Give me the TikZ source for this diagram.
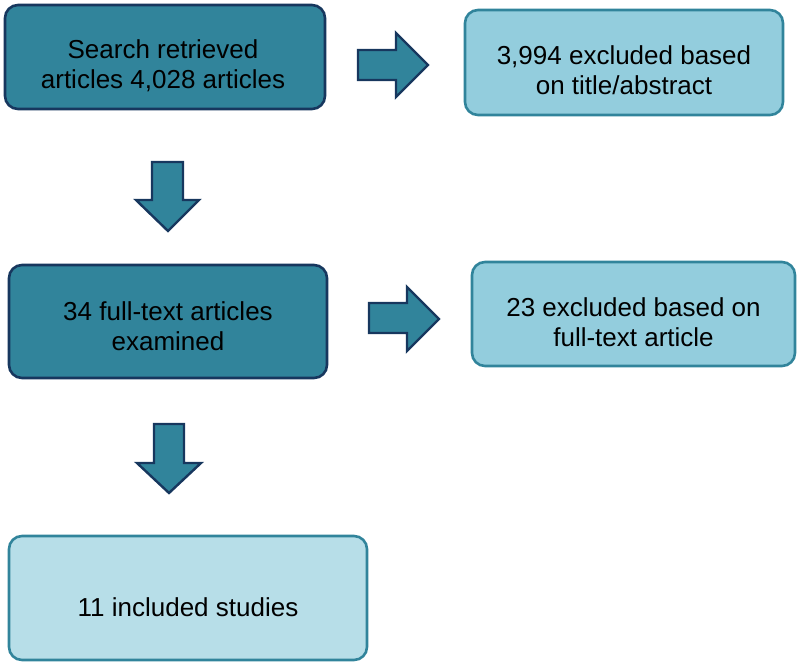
\documentclass[tikz,border=0pt]{standalone}
\usepackage{fontspec}
\setmainfont{Liberation Sans}
\definecolor{darkfill}{HTML}{31849B}
\definecolor{darkline}{HTML}{17375E}
\definecolor{lightfill}{HTML}{93CDDD}
\definecolor{palefill}{HTML}{B7DEE8}
\begin{document}
\begin{tikzpicture}[x=1pt,y=-1pt,
  box/.style={draw, line width=2.6pt, rounded corners=13pt, inner sep=0pt},
  darkbox/.style={box, fill=darkfill, draw=darkline},
  lightbox/.style={box, fill=lightfill, draw=darkfill},
  palebox/.style={box, fill=palefill, draw=darkfill},
  boxtext/.style={align=center, inner sep=0pt, font=\fontsize{26}{30}\selectfont, text=black},
  blockarrow/.style={fill=darkfill, draw=darkline, line width=2.4pt, line join=miter}]
\useasboundingbox (0,0) rectangle (800,665);
% boxes
\node[darkbox, minimum width=320pt, minimum height=104pt] (b1) at (165,57) {};
\node[lightbox, minimum width=318pt, minimum height=105pt] (b2) at (624,62.5) {};
\node[darkbox, minimum width=318pt, minimum height=113pt] (b3) at (168,321.5) {};
\node[lightbox, minimum width=323pt, minimum height=104pt] (b4) at (633.5,314) {};
\node[palebox, minimum width=358pt, minimum height=124pt] (b5) at (188,598) {};
% texts
\node[boxtext] (t1) at ([xshift=-2pt,yshift=-9pt]b1.center) {Search retrieved\\articles 4,028 articles};
\node[boxtext] (t2) at ([yshift=-8pt]b2.center) {3,994 excluded based\\on title/abstract};
\node[boxtext] (t3) at ([yshift=-5pt]b3.center) {34 full-text articles\\examined};
\node[boxtext] (t4) at ([yshift=-8pt]b4.center) {23 excluded based on\\full-text article};
\node[boxtext] (t5) at ([yshift=-9pt]b5.center) {11 included studies};
% block arrows
\draw[blockarrow] (358,50) -- (396,50) -- (396,33) -- (428,65) -- (396,97) -- (396,80) -- (358,80) -- cycle;
\draw[blockarrow] (369,303) -- (407,303) -- (407,287) -- (439,319) -- (407,351) -- (407,333) -- (369,333) -- cycle;
\draw[blockarrow] (152,162) -- (183,162) -- (183,200) -- (199,200) -- (168,231) -- (136,200) -- (152,200) -- cycle;
\draw[blockarrow] (154,424) -- (184,424) -- (184,463) -- (201,463) -- (169,493) -- (137,463) -- (154,463) -- cycle;
\end{tikzpicture}
\end{document}
